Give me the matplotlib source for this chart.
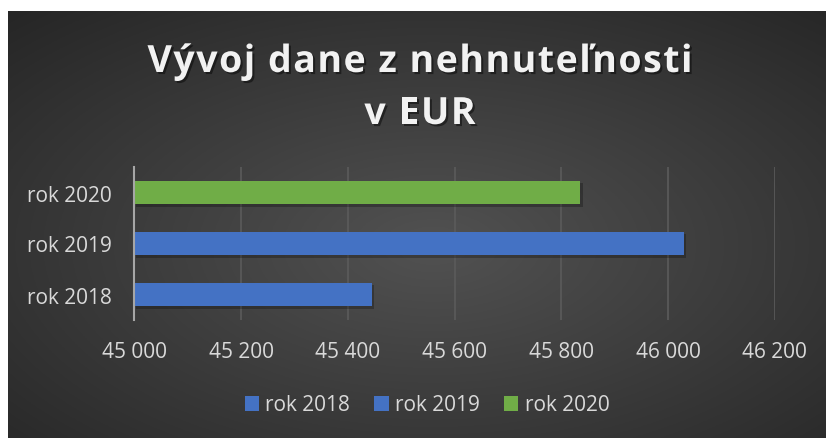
import numpy as np
import matplotlib.pyplot as plt
import matplotlib.patheffects as pe
from matplotlib.patches import Patch
from matplotlib import font_manager
from matplotlib.ft2font import FT2Font

# data
categories = ['rok 2018', 'rok 2019', 'rok 2020']
values = [45446, 46030, 45836]
bar_colors = ['#4472C4', '#4472C4', '#70AD47']
x_ticks = [45000, 45200, 45400, 45600, 45800, 46000, 46200]
x_tick_labels = ['45 000', '45 200', '45 400', '45 600', '45 800', '46 000', '46 200']
title_lines = ['Vývoj dane z nehnuteľnosti', 'v EUR']

W, H = 826, 439
DPI = 100
fig = plt.figure(figsize=(W / DPI, H / DPI), dpi=DPI)
fig.patch.set_facecolor('white')

# dark radial background (starts a few px in from the top-left)
bg = fig.add_axes([8 / W, 0, 1 - 8 / W, 1 - 12 / H])
bg.set_axis_off()
yy, xx = np.mgrid[0:1:300j, 0:1:500j]
r = np.sqrt(((xx - 0.52) / 0.75) ** 2 + ((yy - 0.45) / 0.75) ** 2)
shade = np.clip(0.32 - 0.17 * r, 0.145, 0.32)
bg.imshow(np.dstack([shade] * 3), extent=[0, 1, 0, 1], aspect='auto', origin='lower')
bg.set_xlim(0, 1)
bg.set_ylim(0, 1)

ax = fig.add_axes([134.3 / W, 1 - 321 / H, 640.4 / W, 153 / H])
ax.patch.set_alpha(0)

bars = ax.barh(range(len(categories)), [v - x_ticks[0] for v in values], left=x_ticks[0],
               height=0.47, color=bar_colors, zorder=3)
for b in bars:
    b.set_path_effects([pe.SimplePatchShadow(offset=(1.5, -1.5), shadow_rgbFace='black', alpha=0.25),
                        pe.Normal()])

ax.set_xlim(x_ticks[0], x_ticks[-1])
ax.set_ylim(-0.5, 2.5)
ax.set_xticks(x_ticks)
ax.set_xticklabels(x_tick_labels)
ax.set_yticks(range(len(categories)))
ax.set_yticklabels(categories)
ax.tick_params(axis='both', length=0, labelsize=15, labelcolor='#d9d9d9', labelfontfamily='Open Sans')
ax.tick_params(axis='x', pad=15)
ax.tick_params(axis='y', pad=16)
ax.grid(axis='x', color='#5b5b5b', linewidth=1.2, zorder=0)
for s in ['top', 'right', 'bottom']:
    ax.spines[s].set_visible(False)
ax.spines['left'].set_color('#a6a6a6')
ax.spines['left'].set_linewidth(1.5)
ax.spines['left'].set_zorder(4)

# title with letter spacing, placed character by character
title_size = 27
fp = font_manager.FontProperties(family='Open Sans', weight='bold', size=title_size)
font = FT2Font(font_manager.findfont(fp))
font.set_size(title_size, DPI)


def advances(s):
    return [font.load_char(ord(c)).linearHoriAdvance / 65536 for c in s]


adv1 = advances(title_lines[0])
spacing = (545 - sum(adv1)) / (len(title_lines[0]) - 1)
shadow = [pe.withSimplePatchShadow(offset=(1.5, -1.5), shadow_rgbFace='black', alpha=0.45)]
for line, base_y in zip(title_lines, [73, 125]):
    adv = advances(line)
    total = sum(adv) + spacing * (len(line) - 1)
    x = 420 - total / 2
    for c, a in zip(line, adv):
        if c != ' ':
            fig.text(x / W, 1 - base_y / H, c, ha='left', va='baseline', fontproperties=fp,
                     color='#f2f2f2', path_effects=shadow)
        x += a + spacing

handles = [Patch(facecolor=c) for c in bar_colors]
leg = fig.legend(handles, categories, loc='center', bbox_to_anchor=(427 / W, 1 - 406 / H), ncol=3,
                 frameon=False, prop={'family': 'Open Sans', 'size': 15},
                 handlelength=0.7, handleheight=0.7, handletextpad=0.3, columnspacing=1.15)
for t in leg.get_texts():
    t.set_color('#d9d9d9')

fig.savefig('out.png', dpi=DPI)
